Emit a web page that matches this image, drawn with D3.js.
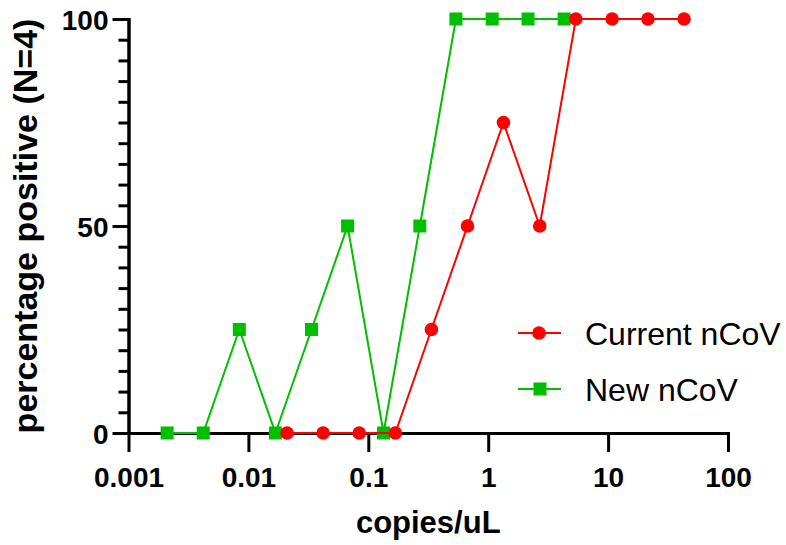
<!DOCTYPE html>
<html>
<head>
<meta charset="utf-8">
<script src="https://cdn.jsdelivr.net/npm/d3@7"></script>
<style>
  html, body { margin: 0; padding: 0; background: #fff; }
  svg { display: block; }
  text { font-family: "Liberation Sans", Arial, Helvetica, sans-serif; }
</style>
</head>
<body>
<svg id="chart" width="786" height="545"></svg>
<script>
// ---- data ----
const currentX = [0.021, 0.042, 0.084, 0.168, 0.336, 0.672, 1.34, 2.69, 5.38, 10.8, 21.5, 43];
const currentY = [0, 0, 0, 0, 25, 50, 75, 50, 100, 100, 100, 100];
const newX = [0.0021, 0.0042, 0.0084, 0.0168, 0.0336, 0.0672, 0.134, 0.269, 0.538, 1.08, 2.15, 4.3];
const newY = [0, 0, 25, 0, 25, 50, 0, 50, 100, 100, 100, 100];
const seriesNames = ["Current nCoV", "New nCoV"];
const xTickValues = [0.001, 0.01, 0.1, 1, 10, 100];
const xTickLabels = ["0.001", "0.01", "0.1", "1", "10", "100"];
const yTickValues = [0, 50, 100];
const yTickLabels = ["0", "50", "100"];
const yMinorTicks = [5, 10, 15, 20, 25, 30, 35, 40, 45, 55, 60, 65, 70, 75, 80, 85, 90, 95];
const xTitle = "copies/uL";
const yTitle = "percentage positive (N=4)";

// ---- layout ----
const svg = d3.select("#chart");
const x = d3.scaleLog().domain([0.001, 100]).range([128.5, 728]);
const y = d3.scaleLinear().domain([0, 100]).range([433, 19]);
const RED = "#ff0000", GREEN = "#00bf00";

svg.append("rect").attr("width", 786).attr("height", 545).attr("fill", "#fff");

// y axis minor ticks
const yMinor = svg.append("g").attr("transform", `translate(${x.range()[0]},0)`)
  .call(d3.axisLeft(y).tickValues(yMinorTicks).tickSize(10).tickSizeOuter(0).tickFormat(() => ""));
// y axis major ticks with labels
const yMajor = svg.append("g").attr("transform", `translate(${x.range()[0]},0)`)
  .call(d3.axisLeft(y).tickValues(yTickValues).tickSize(16).tickSizeOuter(0)
    .tickPadding(4).tickFormat((d, i) => yTickLabels[i]));
// x axis
const xAxis = svg.append("g").attr("transform", `translate(0,${y(0)})`)
  .call(d3.axisBottom(x).tickValues(xTickValues).tickSize(19).tickSizeOuter(0)
    .tickFormat((d, i) => xTickLabels[i]));

[yMinor, yMajor, xAxis].forEach(g => {
  g.selectAll("path.domain").attr("stroke", "#000").attr("stroke-width", 3).attr("stroke-linecap", "square");
  g.selectAll(".tick line").attr("stroke", "#000").attr("stroke-width", 3);
  g.selectAll("text").attr("fill", "#000").attr("font-size", 28).attr("font-weight", "bold")
    .attr("font-family", "'Liberation Sans', Arial, sans-serif");
});
xAxis.selectAll("text").attr("y", 0).attr("dy", 0).attr("transform", "translate(0,54)");
yMajor.selectAll("text").attr("dy", "0.36em");

// axis titles
svg.append("text").attr("x", (x.range()[0] + x.range()[1]) / 2).attr("y", 533)
  .attr("text-anchor", "middle").attr("font-size", 31).attr("font-weight", "bold").text(xTitle);
svg.append("text").attr("transform", `translate(37,${(y.range()[0] + y.range()[1]) / 2}) rotate(-90)`)
  .attr("text-anchor", "middle").attr("font-size", 34).attr("font-weight", "bold").text(yTitle);

// series
const line = d3.line().x(d => x(d[0])).y(d => y(d[1]));
const newData = newX.map((v, i) => [v, newY[i]]);
const curData = currentX.map((v, i) => [v, currentY[i]]);

function drawSeries(data, color, shape) {
  const g = svg.append("g");
  g.append("path").datum(data).attr("d", line).attr("fill", "none")
    .attr("stroke", color).attr("stroke-width", 2);
  if (shape === "square") {
    g.selectAll("rect").data(data).join("rect")
      .attr("x", d => x(d[0]) - 6.5).attr("y", d => y(d[1]) - 6.5)
      .attr("width", 13).attr("height", 13).attr("fill", color);
  } else {
    g.selectAll("circle").data(data).join("circle")
      .attr("cx", d => x(d[0])).attr("cy", d => y(d[1])).attr("r", 6.8).attr("fill", color);
  }
}
drawSeries(newData, GREEN, "square");
drawSeries(curData, RED, "circle");

// legend
const legend = [
  { name: seriesNames[0], color: RED, shape: "circle", y: 333 },
  { name: seriesNames[1], color: GREEN, shape: "square", y: 389 }
];
legend.forEach(l => {
  const g = svg.append("g");
  g.append("line").attr("x1", 518).attr("x2", 561).attr("y1", l.y).attr("y2", l.y)
    .attr("stroke", l.color).attr("stroke-width", 2);
  if (l.shape === "circle") {
    g.append("circle").attr("cx", 539).attr("cy", l.y).attr("r", 6.8).attr("fill", l.color);
  } else {
    g.append("rect").attr("x", 540 - 6.5).attr("y", l.y - 6.5).attr("width", 13).attr("height", 13).attr("fill", l.color);
  }
  g.append("text").attr("x", 585).attr("y", l.y + 12).attr("font-size", 32).attr("fill", "#000").text(l.name);
});
</script>
</body>
</html>
